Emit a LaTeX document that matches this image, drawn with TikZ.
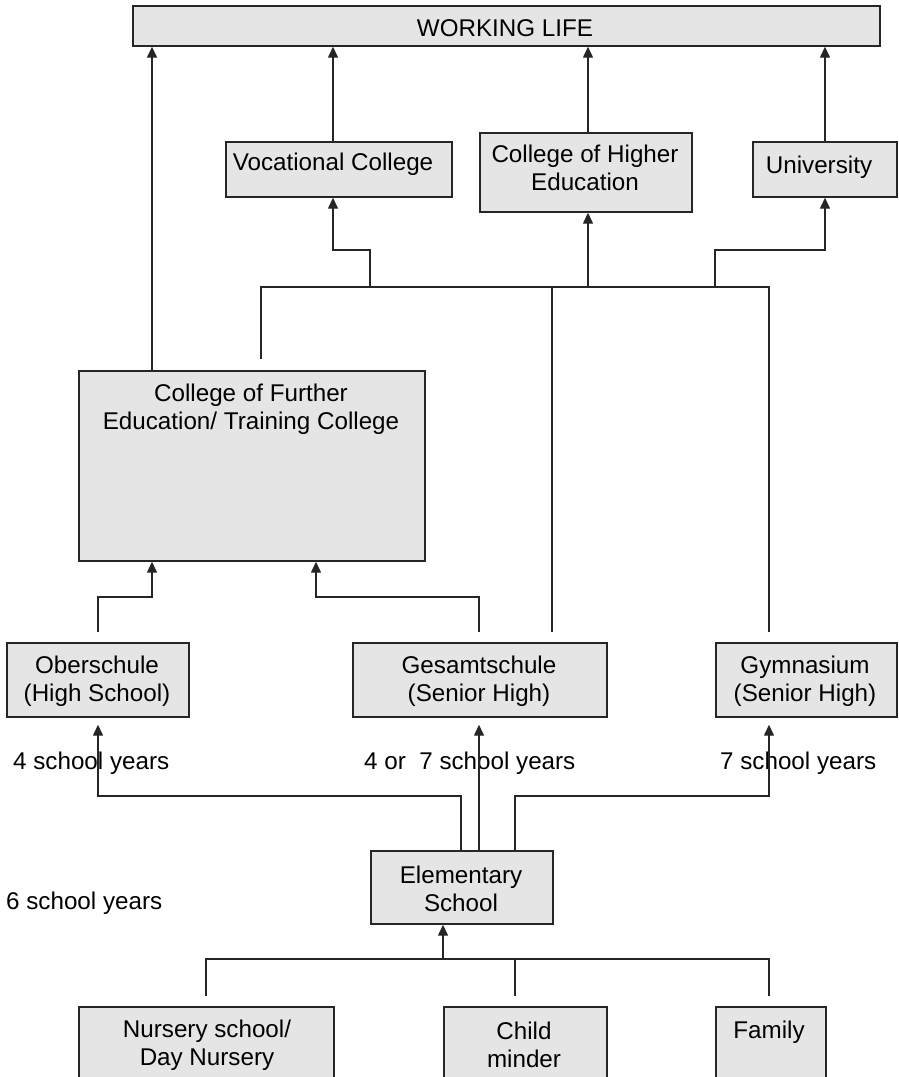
\documentclass[tikz,border=0pt]{standalone}
\usepackage{fontspec}
\setmainfont{Liberation Sans}
\usetikzlibrary{arrows.meta}
\tikzset{
  box/.style={draw=black!85, line width=1.7pt, fill=gray!20, inner sep=0pt, anchor=north west},
  txt/.style={align=center, inner sep=0pt, font=\fontsize{24.2}{27.5}\selectfont},
  lbl/.style={anchor=west, inner sep=0pt, font=\fontsize{24.2}{27.5}\selectfont},
  conn/.style={draw=black!85, line width=1.4pt},
  arr/.style={conn, -{Triangle[length=11pt,width=10pt]}}
}
\begin{document}
\begin{tikzpicture}[x=1pt,y=-1pt]
\useasboundingbox (0,0) rectangle (898,1077);
% boxes
\node[box, minimum width=747pt, minimum height=40pt] (wl) at (132,5) {};
\node[box, minimum width=226pt, minimum height=55pt] (voc) at (225,141) {};
\node[box, minimum width=212pt, minimum height=79pt] (che) at (479,132) {};
\node[box, minimum width=144pt, minimum height=55pt] (uni) at (752,141) {};
\node[box, minimum width=346pt, minimum height=190pt] (cfe) at (78,370) {};
\node[box, minimum width=182pt, minimum height=74pt] (ober) at (6,642) {};
\node[box, minimum width=254pt, minimum height=74pt] (ges) at (352,642) {};
\node[box, minimum width=181pt, minimum height=74pt] (gym) at (715,642) {};
\node[box, minimum width=182pt, minimum height=73pt] (elem) at (370,850) {};
\node[box, minimum width=255pt, minimum height=90pt] (nur) at (78,1006) {};
\node[box, minimum width=163pt, minimum height=90pt] (child) at (443,1006) {};
\node[box, minimum width=110pt, minimum height=90pt] (fam) at (715,1006) {};
% texts
\node[txt] (wlt) at (505,28) {WORKING LIFE};
\node[txt] (voct) at (333,164) {Vocational College};
\node[txt] (chet) at (585,168) {College of Higher\\Education};
\node[txt] (unit) at (819,167) {University};
\node[txt] (cfet) at (251,409) {College of Further\\Education/ Training College};
\node[txt] (obert) at (97,681) {Oberschule\\(High School)};
\node[txt] (gest) at (479,681) {Gesamtschule\\(Senior High)};
\node[txt] (gymt) at (805,681) {Gymnasium\\(Senior High)};
\node[txt] (elemt) at (461,889) {Elementary\\School};
\node[txt] (nurt) at (207,1045) {Nursery school/\\Day Nursery};
\node[txt] (childt) at (524,1045) {Child\\minder};
\node[txt] (famt) at (769,1032) {Family};
% labels
\node[lbl] (l1) at (13,763) {4 school years};
\node[lbl] (l2) at (364,763) {4 or~~7 school years};
\node[lbl] (l3) at (720,763) {7 school years};
\node[lbl] (l4) at (6,903) {6 school years};
% junction coordinates
\coordinate (cfeA) at (152,370);
\coordinate (cfeFree) at (261,359);
\coordinate (busL) at (261,287);
\coordinate (busR) at (769,287);
\coordinate (gesUp) at (552,632);
\coordinate (gymUp) at (769,632);
\coordinate (oberUp) at (98,632);
\coordinate (gesL) at (479,632);
% to working life
\draw[arr] (cfeA) -- (cfeA |- wl.south);
\draw[arr] (voc.north -| 333,0) -- (wl.south -| 333,0);
\draw[arr] (che.north -| 588,0) -- (wl.south -| 588,0);
\draw[arr] (uni.north -| 825,0) -- (wl.south -| 825,0);
% upper bus
\draw[conn] (cfeFree) -- (busL) -- (busR) -- (gymUp);
\draw[conn] (busL -| 552,0) -- (gesUp);
\draw[arr] (370,287) -- (370,250) -- (333,250) -- (voc.south -| 333,0);
\draw[arr] (588,287) -- (che.south -| 588,0);
\draw[arr] (715,287) -- (715,250) -- (825,250) -- (uni.south -| 825,0);
% into CFE
\draw[arr] (oberUp) -- (98,597) -- (152,597) -- (cfe.south -| 152,0);
\draw[arr] (gesL) -- (479,597) -- (316,597) -- (cfe.south -| 316,0);
% from elementary
\draw[arr] (elem.north -| 461,0) -- (461,796) -- (98,796) -- ([yshift=-7pt]ober.south -| 98,0);
\draw[arr] (elem.north -| 479,0) -- ([yshift=-7pt]ges.south -| 479,0);
\draw[arr] (elem.north -| 515,0) -- (515,796) -- (769,796) -- ([yshift=-7pt]gym.south -| 769,0);
% lower bus
\draw[conn] ([yshift=10pt]nur.north -| 206,0) -- (206,959) -- (769,959) -- ([yshift=10pt]fam.north -| 769,0);
\draw[conn] ([yshift=10pt]child.north -| 515,0) -- (515,959);
\draw[arr] (443,959) -- (elem.south -| 443,0);
\end{tikzpicture}
\end{document}
